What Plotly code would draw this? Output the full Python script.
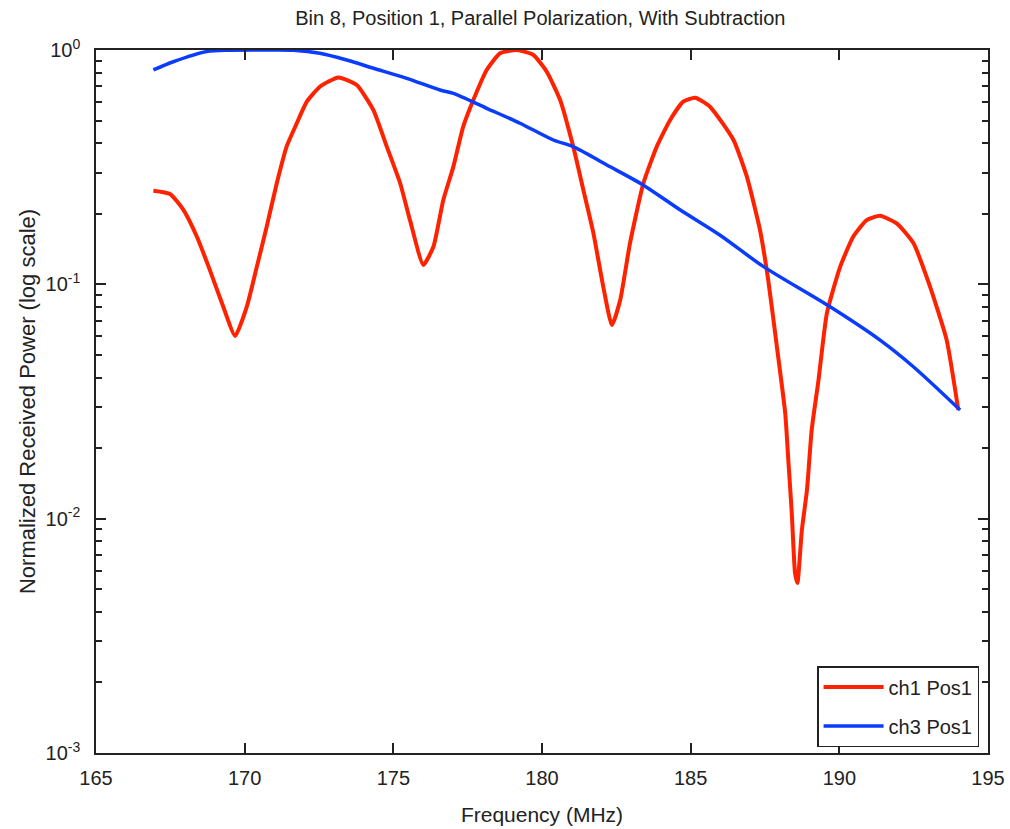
import plotly.graph_objects as go

# Channel 1, position 1 (measured frequency response, normalized)
ch1_freq = [166.93, 167.49, 167.94, 168.39, 168.83, 169.28, 169.68, 170.07, 170.41, 170.74,
            171.08, 171.41, 171.75, 172.09, 172.53, 173.15, 173.77, 174.33, 174.78, 175.23,
            175.56, 176.01, 176.35, 176.68, 177.02, 177.35, 177.69, 178.14, 178.59, 179.15,
            179.71, 180.16, 180.61, 181.05, 181.39, 181.73, 182.06, 182.35, 182.63, 182.96,
            183.41, 183.86, 184.31, 184.75, 185.15, 185.65, 186.44, 186.89, 187.33, 187.61,
            187.90, 188.18, 188.29, 188.40, 188.51, 188.59, 188.74, 188.91, 189.07, 189.30,
            189.58, 190.03, 190.47, 190.92, 191.37, 191.93, 192.49, 193.05, 193.61, 194.00]
ch1_power = [0.251, 0.243, 0.208, 0.160, 0.115, 0.0802, 0.0602, 0.0802, 0.119, 0.176,
             0.270, 0.387, 0.486, 0.602, 0.697, 0.764, 0.709, 0.554, 0.387, 0.270,
             0.188, 0.121, 0.145, 0.229, 0.318, 0.471, 0.612, 0.822, 0.968, 1.0,
             0.952, 0.808, 0.612, 0.387, 0.253, 0.165, 0.0977, 0.0670, 0.0857, 0.150,
             0.270, 0.387, 0.503, 0.602, 0.626, 0.573, 0.413, 0.288, 0.171, 0.104,
             0.0542, 0.0282, 0.0173, 0.0106, 0.00586, 0.00531, 0.00894, 0.0132, 0.0239, 0.0391,
             0.0752, 0.119, 0.160, 0.188, 0.196, 0.182, 0.150, 0.0977, 0.0578, 0.0291]

# Channel 3, position 1
ch3_freq = [166.93, 167.60, 168.72, 169.51, 170.58, 171.64, 172.53, 173.43, 174.33, 175.45,
            176.57, 177.02, 178.14, 179.26, 180.38, 181.05, 182.18, 183.41, 184.64, 185.99,
            187.45, 189.69, 191.37, 192.49, 194.06]
ch3_power = [0.822, 0.891, 0.984, 0.998, 1.0, 0.998, 0.968, 0.906, 0.836, 0.757,
             0.675, 0.653, 0.564, 0.487, 0.413, 0.387, 0.323, 0.265, 0.208, 0.162,
             0.119, 0.0802, 0.0578, 0.0445, 0.0291]

x_ticks = [165, 170, 175, 180, 185, 190, 195]
y_ticks = [1e-3, 1e-2, 1e-1, 1]
y_tick_text = ["10<sup>-3</sup>", "10<sup>-2</sup>", "10<sup>-1</sup>", "10<sup>0</sup>"]
y_minor = [m * 10 ** e for e in (-3, -2, -1) for m in range(2, 10)]

FONT = "Liberation Sans, Arial, sans-serif"
INK = "#222"

fig = go.Figure()
fig.add_trace(go.Scatter(x=ch1_freq, y=ch1_power, mode="lines", name="ch1 Pos1",
                         legendgroup="ch1",
                         line=dict(color="#ff2200", width=4, shape="spline", smoothing=0.5)))
fig.add_trace(go.Scatter(x=ch3_freq, y=ch3_power, mode="lines", name="ch3 Pos1",
                         legendgroup="ch3",
                         line=dict(color="#0a3cff", width=3.5, shape="spline", smoothing=0.8)))

axis_common = dict(showline=True, linecolor=INK, linewidth=1.5, mirror="ticks",
                   ticks="inside", tickcolor=INK, showgrid=False, zeroline=False,
                   automargin=False,
                   tickfont=dict(family=FONT, size=20, color=INK))

fig.update_layout(
    width=1010, height=829,
    margin=dict(l=96, r=22, t=50, b=76),
    paper_bgcolor="white", plot_bgcolor="white",
    title=dict(text="Bin 8, Position 1, Parallel Polarization, With Subtraction",
               x=0.535, xanchor="center", y=0.978, yanchor="middle",
               font=dict(family=FONT, size=20, color=INK)),
    xaxis=dict(range=[165, 195], tickvals=x_ticks, ticklen=10, tickwidth=1.5,
               ticklabelstandoff=6,
               title=dict(text="Frequency (MHz)", font=dict(family=FONT, size=21, color=INK),
                          standoff=20),
               **axis_common),
    yaxis=dict(type="log", range=[-3, 0], tickvals=y_ticks, ticktext=y_tick_text,
               ticklen=10, tickwidth=1.5, ticklabelstandoff=10,
               minor=dict(tickvals=y_minor, ticks="inside", ticklen=6, tickwidth=1.5,
                          tickcolor=INK, showgrid=False),
               title=dict(text="Normalized Received Power (log scale)",
                          font=dict(family=FONT, size=22, color=INK), standoff=4),
               **axis_common),
    legend=dict(x=0.99, y=0.0085, xanchor="right", yanchor="bottom",
                bgcolor="white", bordercolor=INK, borderwidth=1.5,
                font=dict(family=FONT, size=20, color=INK),
                itemwidth=60, tracegroupgap=10),
    showlegend=True,
)

fig.write_html("out.html")
